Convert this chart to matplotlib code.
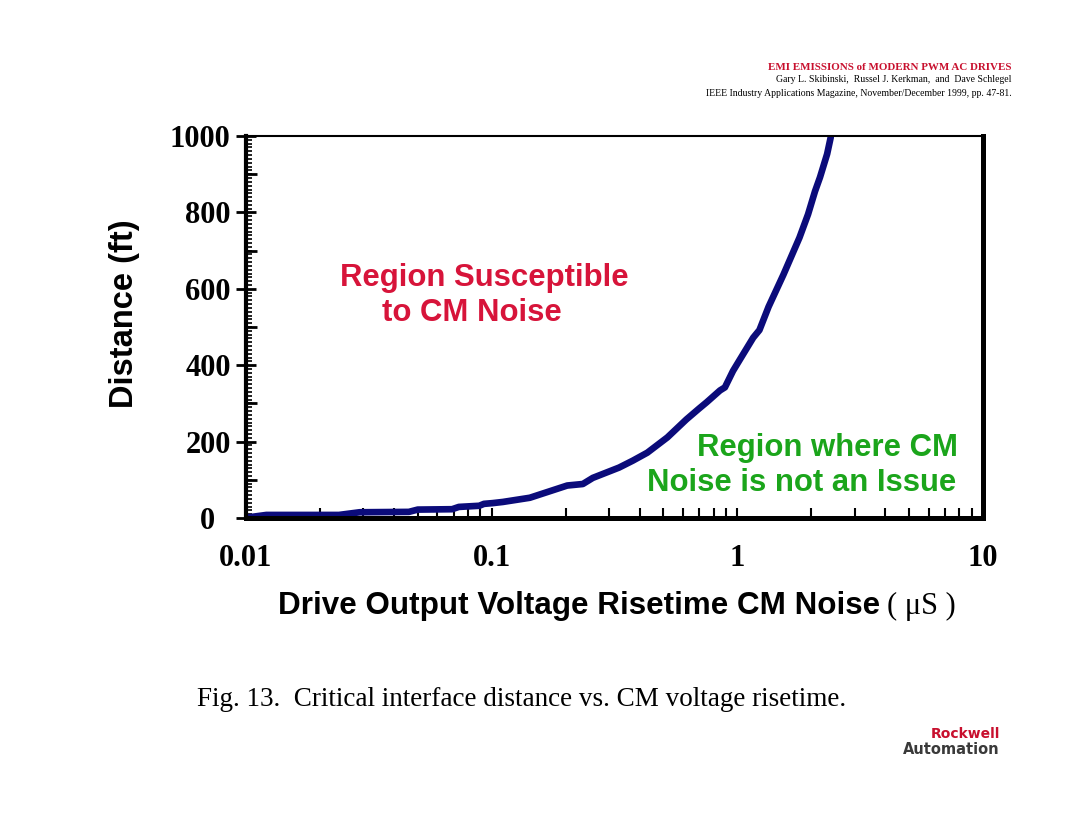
import matplotlib.pyplot as plt
from matplotlib.ticker import FixedLocator, MultipleLocator, LogLocator, NullFormatter

# critical distance curve
rise_us = [0.0100, 0.0103, 0.0121, 0.0239, 0.029, 0.046, 0.050, 0.069, 0.0735, 0.089,
           0.093, 0.101, 0.111, 0.143, 0.203, 0.235, 0.258, 0.33, 0.375, 0.43,
           0.519, 0.62, 0.70, 0.75, 0.85, 0.89, 0.96, 1.02, 1.16, 1.23,
           1.34, 1.54, 1.79, 1.94, 2.07, 2.17, 2.32, 2.40]
dist_ft = [0, 2, 8, 8, 15, 16, 22, 23, 29, 32,
           37, 39, 42, 53, 85, 89, 105, 132, 150, 171,
           211, 258, 287, 303, 334, 342, 385, 413, 472, 492,
           553, 637, 734, 795, 855, 892, 953, 997]

x_ticks = [0.01, 0.1, 1, 10]
x_labels = ['0.01', '0.1', '1', '10']
y_ticks = [0, 200, 400, 600, 800, 1000]
y_labels = ['0  ', '200', '400', '600', '800', '1000']

serif = 'Liberation Serif'
sans = 'Liberation Sans'

fig = plt.figure(figsize=(10.8, 8.34), dpi=100)
ax = fig.add_axes([0.2278, 0.3789, 0.6824, 0.458])

ax.plot(rise_us, dist_ft, color='#0b0b7a', lw=4.8, solid_capstyle='round')
ax.set_xscale('log')
ax.set_xlim(0.01, 10)
ax.set_ylim(0, 1000)

ax.spines['left'].set_linewidth(3.0)
ax.spines['bottom'].set_linewidth(3.6)
ax.spines['right'].set_linewidth(3.6)
ax.spines['top'].set_linewidth(1.5)

ax.xaxis.set_major_locator(FixedLocator(x_ticks))
ax.set_xticklabels(x_labels, fontfamily=serif, fontweight='bold', fontsize=22)
ax.xaxis.set_minor_locator(LogLocator(base=10, subs=range(2, 10)))
ax.xaxis.set_minor_formatter(NullFormatter())
ax.tick_params(axis='x', which='both', direction='in', width=1.5, pad=19)
ax.tick_params(axis='x', which='major', length=7)
ax.tick_params(axis='x', which='minor', length=7)

ax.yaxis.set_major_locator(FixedLocator(y_ticks))
ax.set_yticklabels(y_labels, fontfamily=serif, fontweight='bold', fontsize=22)
ax.yaxis.set_minor_locator(MultipleLocator(10))
ax.tick_params(axis='y', which='major', direction='inout', length=14, width=2, pad=4)
ax.tick_params(axis='y', which='minor', direction='in', length=4, width=1.2)

# medium ticks every 100 ft
sec = ax.secondary_yaxis('left')
sec.set_yticks([100, 300, 500, 700, 900])
sec.set_yticklabels([])
sec.tick_params(direction='in', length=8, width=2)
sec.spines['left'].set_visible(False)

fig.text(124 / 1080, 1 - 314 / 834, 'Distance (ft)', rotation=90,
         fontfamily=sans, fontweight='bold', fontsize=23.5, ha='center', va='center')

# x label: sans part plus serif unit
fig.text(880 / 1080, 1 - 606 / 834, 'Drive Output Voltage Risetime CM Noise',
         fontfamily=sans, fontweight='bold', fontsize=22.6, ha='right', va='center')
fig.text(887 / 1080, 1 - 606 / 834, '( \u03bcS )',
         fontfamily=serif, fontsize=22, ha='left', va='center')

red = '#d7143a'
green = '#1ba51b'
fig.text(340 / 1080, 1 - 278 / 834, 'Region Susceptible', color=red,
         fontfamily=sans, fontweight='bold', fontsize=22.4, ha='left', va='center')
fig.text(382 / 1080, 1 - 313 / 834, 'to CM Noise', color=red,
         fontfamily=sans, fontweight='bold', fontsize=22.4, ha='left', va='center')
fig.text(958 / 1080, 1 - 448 / 834, 'Region where CM', color=green,
         fontfamily=sans, fontweight='bold', fontsize=22.4, ha='right', va='center')
fig.text(956 / 1080, 1 - 483 / 834, 'Noise is not an Issue', color=green,
         fontfamily=sans, fontweight='bold', fontsize=22.4, ha='right', va='center')

# header citation
fig.text(1012 / 1080, 1 - 68 / 834, 'EMI EMISSIONS of MODERN PWM AC DRIVES', color='#c8102e',
         fontfamily=serif, fontweight='bold', fontsize=7.9, ha='right', va='center')
fig.text(1012 / 1080, 1 - 80 / 834, 'Gary L. Skibinski,  Russel J. Kerkman,  and  Dave Schlegel',
         fontfamily=serif, fontsize=7, ha='right', va='center')
fig.text(1012 / 1080, 1 - 93 / 834,
         'IEEE Industry Applications Magazine, November/December 1999, pp. 47-81.',
         fontfamily=serif, fontsize=7, ha='right', va='center')

fig.text(197 / 1080, 1 - 700 / 834, 'Fig. 13.  Critical interface distance vs. CM voltage risetime.',
         fontfamily=serif, fontsize=19.5, ha='left', va='center')

fig.text(1000 / 1080, 1 - 738 / 834, 'Rockwell', color='#c8102e',
         fontfamily='DejaVu Sans', fontweight='bold', fontsize=10, ha='right', va='baseline')
fig.text(1000 / 1080, 1 - 754 / 834, 'Automation', color='#3a3a3a',
         fontfamily='DejaVu Sans', fontweight='bold', fontsize=10.5, ha='right', va='baseline')

fig.savefig('out.png', dpi=100)
